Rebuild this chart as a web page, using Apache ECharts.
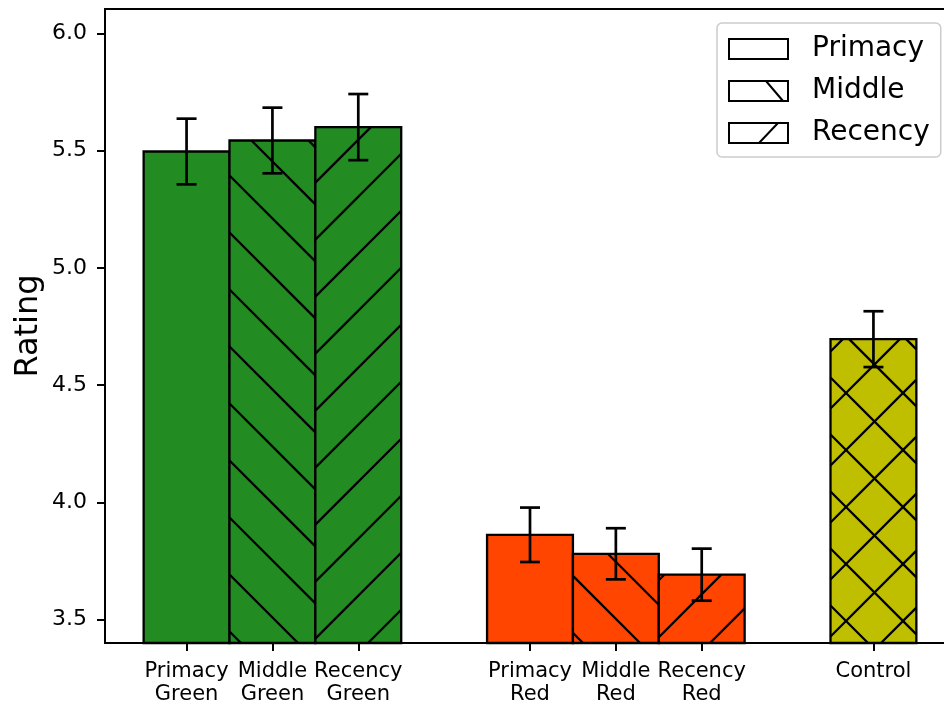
<!DOCTYPE html>
<html><head><meta charset="utf-8">
<script src="https://cdn.jsdelivr.net/npm/echarts@6/dist/echarts.min.js"></script>
<style>html,body{margin:0;padding:0;background:#fff}#c{width:944px;height:704px}</style>
</head><body><div id="c"></div>
<script>
const categories = ['Primacy\nGreen','Middle\nGreen','Recency\nGreen','Primacy\nRed','Middle\nRed','Recency\nRed','Control'];
const positions = [0, 1, 2, 4, 5, 6, 8];
const means = [5.496, 5.543, 5.600, 3.862, 3.781, 3.692, 4.696];
const errors = [0.140, 0.140, 0.141, 0.116, 0.109, 0.111, 0.119];
const groups = ['Primacy','Middle','Recency','Primacy','Middle','Recency','Control'];
const barColors = ['#228b22','#228b22','#228b22','#ff4500','#ff4500','#ff4500','#bfbf00'];
const hatches = ['', '\\', '/', '', '\\', '/', 'x'];
const yTicks = [3.5, 4.0, 4.5, 5.0, 5.5, 6.0];
const legendNames = ['Primacy','Middle','Recency'];
const seriesNames = ['Primacy','Middle','Recency','Control'];

const yMin = 3.4007, yMax = 6.1035, xMin = -0.95, xMax = 8.95;
const HP = 57;
const FONT = 'DejaVu Sans';
const legendIcons = [
  'path://M0,0H59V20H0Z',
  'path://M0,0H59V20H0Z M37,0L54,20',
  'path://M0,0H59V20H0Z M30,20L49,0'
];

function hatchLines(x0, y0, x1, y1, kind) {
  const segs = [];
  if (kind === '\\' || kind === 'x') {
    const c0 = Math.floor((y0 - x1 - 3) / HP) * HP + 3;
    for (let c = c0; c <= y1 - x0; c += HP) {
      const xs = Math.max(x0, y0 - c), xe = Math.min(x1, y1 - c);
      if (xe > xs) segs.push([xs, xs + c, xe, xe + c]);
    }
  }
  if (kind === '/' || kind === 'x') {
    const d0 = Math.floor((x0 + y0 - 42) / HP) * HP + 42;
    for (let d = d0; d <= x1 + y1; d += HP) {
      const xs = Math.max(x0, d - y1), xe = Math.min(x1, d - y0);
      if (xe > xs) segs.push([xs, d - xs, xe, d - xe]);
    }
  }
  return segs;
}

function renderItem(params, api) {
  const pos = api.value(0), m = api.value(1), e = api.value(2), i = api.value(3);
  const tl = api.coord([pos - 0.5, m]);
  const br = api.coord([pos + 0.5, yMin]);
  const x0 = tl[0], y0 = tl[1], x1 = br[0], y1 = br[1];
  const children = [{
    type: 'rect', shape: {x: x0, y: y0, width: x1 - x0, height: y1 - y0},
    style: {fill: barColors[i], stroke: null}
  }];
  hatchLines(x0, y0, x1, y1, hatches[i]).forEach(s => children.push({
    type: 'line', shape: {x1: s[0], y1: s[1], x2: s[2], y2: s[3]},
    style: {stroke: '#000', lineWidth: 2.3}
  }));
  children.push({
    type: 'rect', shape: {x: x0, y: y0, width: x1 - x0, height: y1 - y0},
    style: {fill: 'none', stroke: '#000', lineWidth: 2.3}
  });
  const t = api.coord([pos, m + e]), b = api.coord([pos, m - e]);
  children.push({type: 'line', shape: {x1: t[0], y1: t[1], x2: b[0], y2: b[1]}, style: {stroke: '#000', lineWidth: 2.7}});
  children.push({type: 'line', shape: {x1: t[0] - 10, y1: t[1], x2: t[0] + 10, y2: t[1]}, style: {stroke: '#000', lineWidth: 2.7}});
  children.push({type: 'line', shape: {x1: b[0] - 10, y1: b[1], x2: b[0] + 10, y2: b[1]}, style: {stroke: '#000', lineWidth: 2.7}});
  return {type: 'group', children};
}

const series = seriesNames.map(name => ({
  type: 'custom', name, renderItem,
  data: positions.map((p, i) => [p, means[i], errors[i], i]).filter((d, i) => groups[i] === name),
  encode: {x: 0, y: 1},
  silent: true, animation: false
}));

const chart = echarts.init(document.getElementById('c'));
chart.setOption({
  animation: false,
  grid: {left: 105, top: 9, width: 850, height: 634, show: true, borderColor: '#000', borderWidth: 2,
         backgroundColor: 'transparent', containLabel: false, outerBoundsMode: 'none'},
  xAxis: {
    type: 'value', min: xMin, max: xMax,
    splitLine: {show: false},
    axisLine: {show: true, onZero: false, lineStyle: {color: '#000', width: 2}},
    axisTick: {show: true, customValues: positions, length: 8, lineStyle: {color: '#000', width: 2}},
    axisLabel: {
      customValues: positions,
      formatter: v => categories[positions.indexOf(v)],
      fontFamily: FONT, fontSize: 21, lineHeight: 23, color: '#000', margin: 17
    }
  },
  yAxis: {
    type: 'value', min: yMin, max: yMax,
    name: 'Rating', nameLocation: 'middle', nameGap: 60, nameMoveOverlap: false,
    nameTextStyle: {fontFamily: FONT, fontSize: 32, color: '#000'},
    splitLine: {show: false},
    axisLine: {show: true, onZero: false, lineStyle: {color: '#000', width: 2}},
    axisTick: {show: true, customValues: yTicks, length: 8, lineStyle: {color: '#000', width: 2}},
    axisLabel: {
      customValues: yTicks,
      formatter: v => v.toFixed(1),
      fontFamily: FONT, fontSize: 22, color: '#000', margin: 18
    }
  },
  legend: {
    data: legendNames.map((n, k) => ({name: n, icon: legendIcons[k]})),
    orient: 'vertical', left: 717, top: 23,
    itemWidth: 59, itemHeight: 20, itemGap: 14,
    padding: [12, 11, 10, 11],
    borderColor: '#cccccc', borderWidth: 1.5, borderRadius: 5,
    backgroundColor: 'rgba(255,255,255,0.8)',
    itemStyle: {color: '#fff', borderColor: '#000', borderWidth: 2},
    textStyle: {fontFamily: FONT, fontSize: 28, color: '#000', lineHeight: 20, padding: [0, 0, 0, 19]},
    selectedMode: false
  },
  series
});
</script>
</body></html>
